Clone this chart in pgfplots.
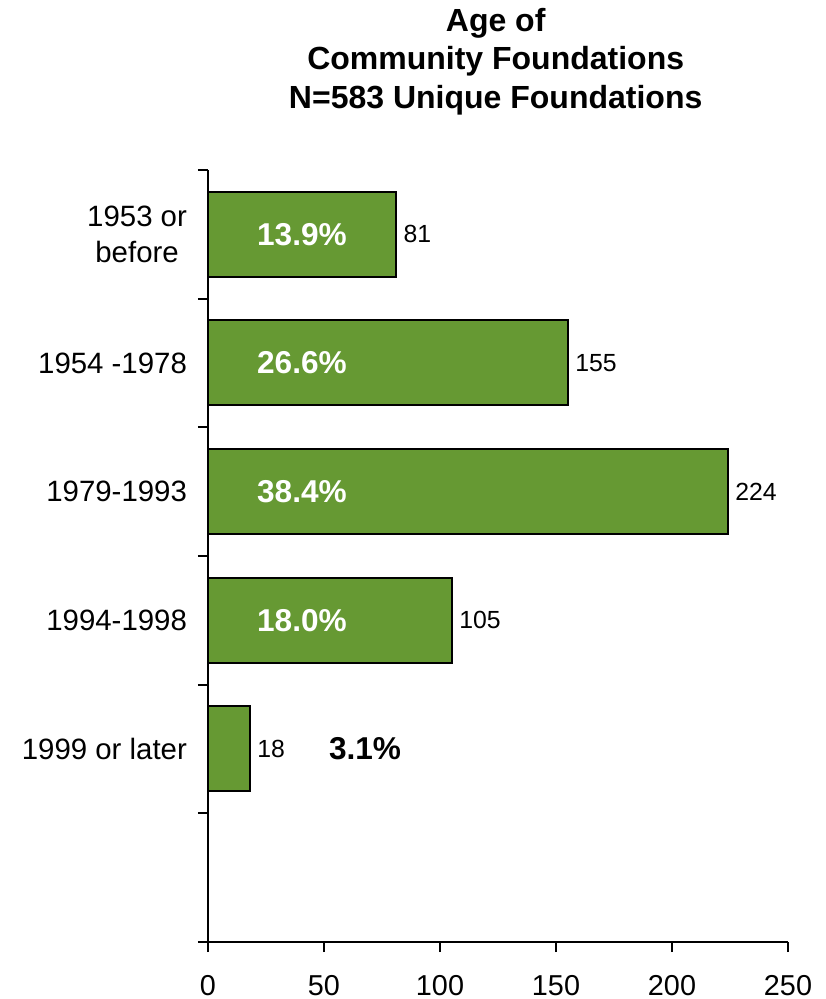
\documentclass[border=0pt]{standalone}
\usepackage{fontspec}
\setmainfont{Liberation Sans}
\usepackage{pgfplots}
\pgfplotsset{compat=1.18}
\definecolor{bargreen}{RGB}{102,153,51}

\begin{document}
\begin{tikzpicture}
\begin{axis}[
  at={(0,0)}, anchor=south west,
  scale only axis, width=290pt, height=386pt,
  xmin=0, xmax=250, ymin=0, ymax=6,
  axis lines*=left,
  axis line style={line width=1pt, black},
  tick style={line width=1pt, black},
  tick align=outside,
  major tick length=5pt,
  xtick={0,50,...,250},
  ytick={0,1,...,6},
  yticklabels={},
  extra y ticks={1.5,2.5,3.5,4.5,5.5},
  extra y tick labels={1999 or later,1994-1998,1979-1993,1954 -1978,{1953 or\\before}},
  extra y tick style={major tick length=0pt,
    yticklabel style={align=center, font=\fontsize{14.7}{18}\selectfont, xshift=-7pt}},
  xticklabel style={font=\fontsize{14.4}{17}\selectfont, yshift=-8pt},
  /pgf/number format/assume math mode=true,
  title={Age of\\Community Foundations\\N=583 Unique Foundations},
  title style={align=center, font=\bfseries\fontsize{16}{19.25}\selectfont,
    at={(0.496,1)}, anchor=south, yshift=18pt},
  clip=false,
]
\addplot[xbar, bar width=42.5pt, fill=bargreen, draw=black, line width=1pt,
  nodes near coords,
  nodes near coords style={font=\fontsize{12.4}{14}\selectfont, black}]
  coordinates {(81,5.5) (155,4.5) (224,3.5) (105,2.5) (18,1.5)};
\addplot[only marks, mark=none, point meta=explicit symbolic, nodes near coords,
  nodes near coords style={anchor=center, text=white,
    font=\bfseries\fontsize{15.8}{18}\selectfont}]
  coordinates {(40.5,5.5) [13.9\%] (40.5,4.5) [26.6\%] (40.5,3.5) [38.4\%] (40.5,2.5) [18.0\%]};
\addplot[only marks, mark=none, point meta=explicit symbolic, nodes near coords,
  nodes near coords style={anchor=center, text=black,
    font=\bfseries\fontsize{15.8}{18}\selectfont}]
  coordinates {(67.7,1.5) [3.1\%]};
\end{axis}
\pgfresetboundingbox
\path[use as bounding box] (-104pt,-28.5pt) rectangle (308.5pt,471pt);
\end{tikzpicture}
\end{document}
